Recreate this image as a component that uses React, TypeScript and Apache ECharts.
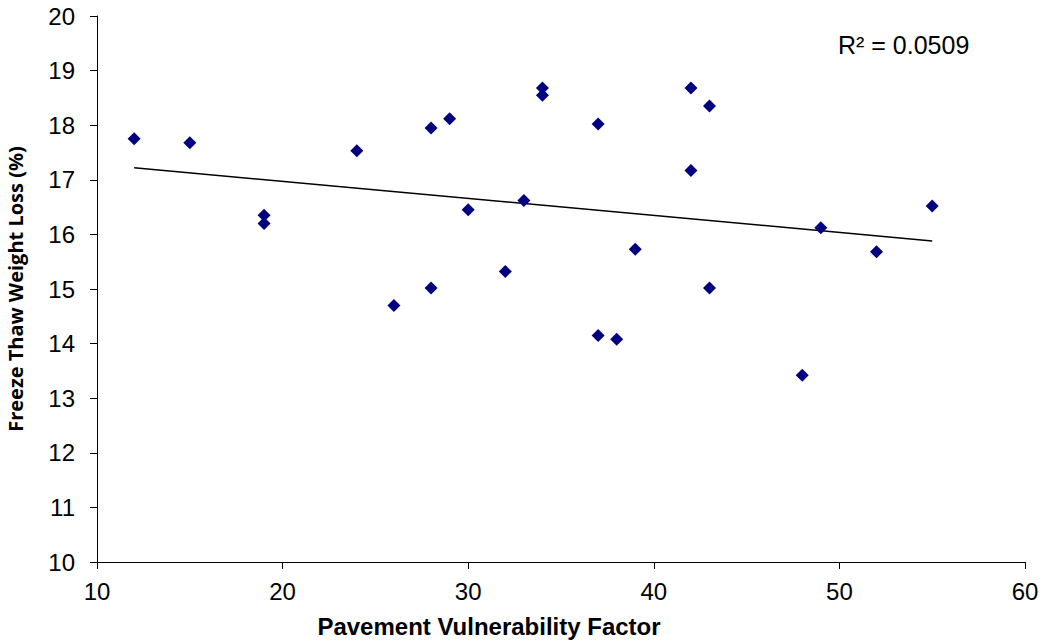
import React, { useEffect, useRef } from "react";
import * as echarts from "echarts";

const xValues = [12, 15, 19, 19, 24, 26, 28, 28, 29, 30, 32, 33, 34, 34, 37, 37, 38, 39, 42, 42, 43, 43, 48, 49, 52, 55];
const yValues = [17.75, 17.68, 16.35, 16.2, 17.53, 14.7, 17.95, 15.02, 18.12, 16.45, 15.32, 16.62, 18.68, 18.55, 18.02, 14.15, 14.08, 15.73, 18.68, 17.17, 18.35, 15.02, 13.42, 16.12, 15.68, 16.52];
const trendX = [12, 55];
const trendY = [17.22, 15.88];
const xTitle = "Pavement Vulnerability Factor";
const yTitle = "Freeze Thaw Weight Loss (%)";
const r2Label = "R² = 0.0509";

export default function App() {
  const ref = useRef<HTMLDivElement>(null);
  useEffect(() => {
    if (!ref.current) return;
    const chart = echarts.init(ref.current, undefined, { renderer: "svg" });
    const font = "Liberation Sans, Arial, sans-serif";
    const axisCommon = {
      axisLine: { show: true, lineStyle: { color: "#000", width: 1 } },
      axisTick: { show: true, length: 7, lineStyle: { color: "#000" } },
      splitLine: { show: false },
      axisLabel: { color: "#000", fontSize: 24, fontFamily: font },
    };
    chart.setOption({
      animation: false,
      backgroundColor: "#fff",
      grid: { left: 97, right: 20, top: 16, bottom: 80, containLabel: false, outerBoundsMode: "none" },
      xAxis: {
        type: "value",
        min: 10,
        max: 60,
        interval: 10,
        ...axisCommon,
        axisLabel: { ...axisCommon.axisLabel, margin: 17 },
        name: xTitle,
        nameLocation: "middle",
        nameGap: 52,
        nameTextStyle: { color: "#000", fontSize: 24, fontWeight: "bold", fontFamily: font, padding: [0, 144, 0, 0] },
      },
      yAxis: {
        type: "value",
        min: 10,
        max: 20,
        interval: 1,
        ...axisCommon,
        axisLabel: { ...axisCommon.axisLabel, margin: 22 },
        name: yTitle,
        nameLocation: "middle",
        nameGap: 72,
        nameTextStyle: { color: "#000", fontSize: 20, fontWeight: "bold", fontFamily: "Open Sans, Lato, sans-serif" },
      },
      series: [
        {
          type: "scatter",
          symbol: "diamond",
          symbolSize: 13,
          itemStyle: { color: "#000080", opacity: 1 },
          data: xValues.map((x, i) => [x, yValues[i]]),
          z: 3,
        },
        {
          type: "line",
          symbol: "none",
          lineStyle: { color: "#000", width: 1.5 },
          data: trendX.map((x, i) => [x, trendY[i]]),
          z: 2,
        },
      ],
      graphic: [
        {
          type: "text",
          left: 838,
          top: 32,
          style: { text: r2Label, fill: "#000", fontSize: 25, fontFamily: font },
        },
      ],
    });
    return () => chart.dispose();
  }, []);
  return <div ref={ref} style={{ width: 1045, height: 642, position: "absolute", left: 0, top: 0 }} />;
}
